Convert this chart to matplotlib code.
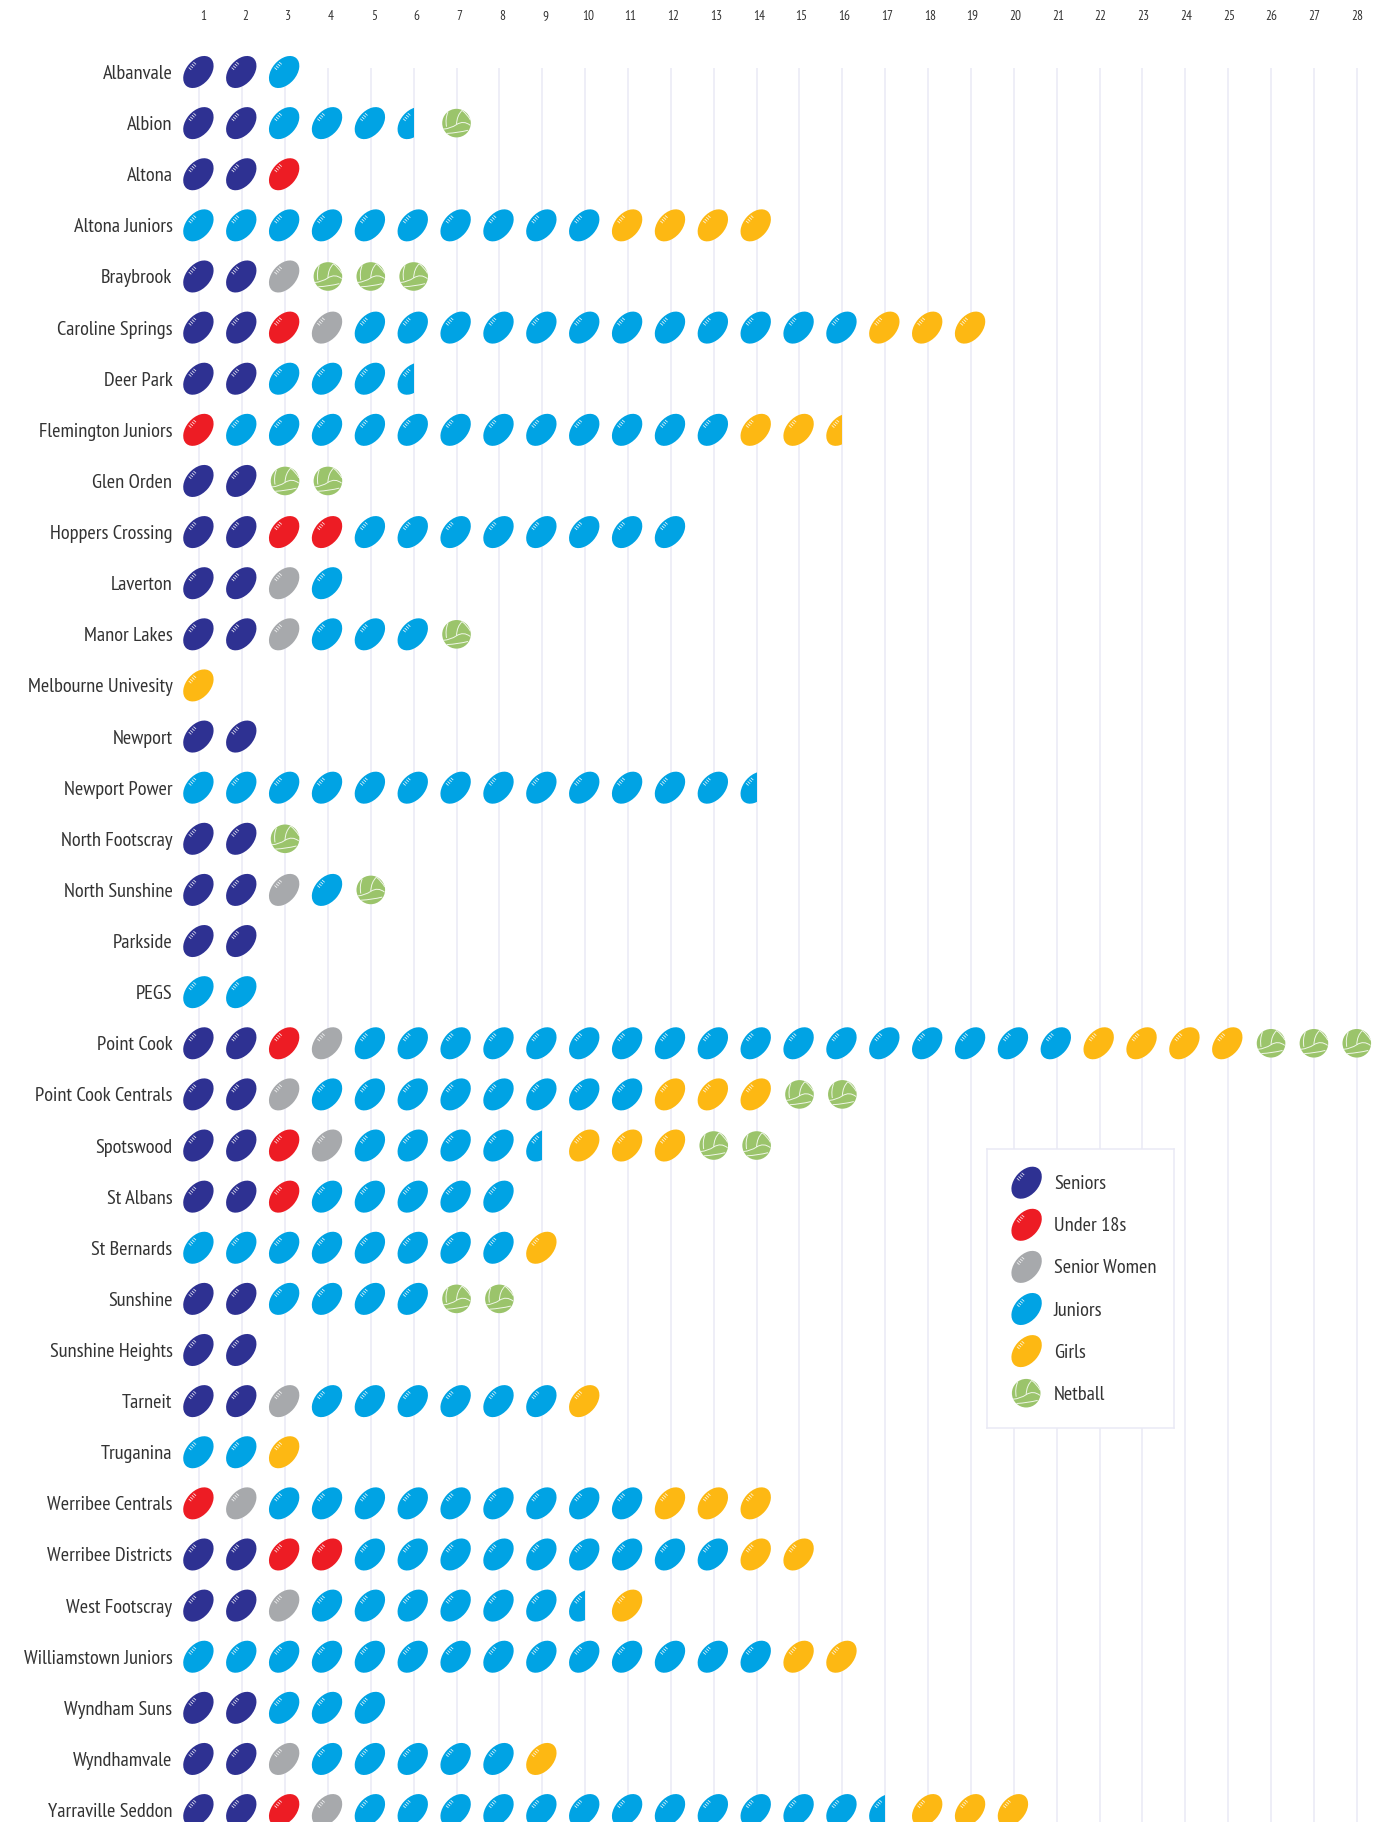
import matplotlib
matplotlib.use('Agg')
import matplotlib.pyplot as plt
from matplotlib import font_manager as fm
from matplotlib.patches import PathPatch, Rectangle
from matplotlib.path import Path
from matplotlib.transforms import Affine2D

# ---------- data ----------
clubs = ["Albanvale", "Albion", "Altona", "Altona Juniors", "Braybrook", "Caroline Springs",
         "Deer Park", "Flemington Juniors", "Glen Orden", "Hoppers Crossing", "Laverton",
         "Manor Lakes", "Melbourne Univesity", "Newport", "Newport Power", "North Footscray",
         "North Sunshine", "Parkside", "PEGS", "Point Cook", "Point Cook Centrals", "Spotswood",
         "St Albans", "St Bernards", "Sunshine", "Sunshine Heights", "Tarneit", "Truganina",
         "Werribee Centrals", "Werribee Districts", "West Footscray", "Williamstown Juniors",
         "Wyndham Suns", "Wyndhamvale", "Yarraville Seddon"]
# One letter per team slot: S U W J G N; lower case = half a team
teams = ["SSJ", "SSJJJjN", "SSU", "JJJJJJJJJJGGGG", "SSWNNN", "SSUWJJJJJJJJJJJJGGG",
         "SSJJJj", "UJJJJJJJJJJJJGGg", "SSNN", "SSUUJJJJJJJJ", "SSWJ",
         "SSWJJJN", "G", "SS", "JJJJJJJJJJJJJj", "SSN",
         "SSWJN", "SS", "JJ", "SSUWJJJJJJJJJJJJJJJJJGGGGNNN", "SSWJJJJJJJJGGGNN", "SSUWJJJJjGGGNN",
         "SSUJJJJJ", "JJJJJJJJG", "SSJJJJNN", "SS", "SSWJJJJJJG", "JJG",
         "UWJJJJJJJJJGGG", "SSUUJJJJJJJJJGG", "SSWJJJJJJjG", "JJJJJJJJJJJJJJGG",
         "SSJJJ", "SSWJJJJJG", "SSUWJJJJJJJJJJJJjGGG"]
slots = list(range(1, 29))
legend_codes = ["S", "U", "W", "J", "G", "N"]
legend_names = ["Seniors", "Under 18s", "Senior Women", "Juniors", "Girls", "Netball"]
colors = {"S": "#2e3192", "U": "#ed1c24", "W": "#a7a9ac", "J": "#00a3e4", "G": "#fdb813", "N": "#9bc46b"}

# ---------- style / layout ----------
W, H = 1395, 1822
names = {f.name for f in fm.fontManager.ttflist}
font = next((n for n in ["PT Sans Narrow", "Liberation Sans Narrow", "Open Sans Condensed", "Roboto Condensed", "Open Sans"] if n in names))
plt.rcParams['font.family'] = [font, 'DejaVu Sans']
TXT = "#333333"
GRID = "#e9e9f5"
COL_PX, ROW_PX = 42.87, 51.12      # pixels per slot / per row
X0, Y0 = 199.3, 72.0               # pixel position of slot 1 / first row
AX_L, AX_T = 180.0, 40.0           # axes left, top (pixels)
SEAM = [((0.4, 0.9), (0.02, 0.55), (0.0, -0.1)), ((-0.6, 0.78), (-0.8, 0.3), (-0.7, -0.25)),
        ((-0.92, -0.42), (-0.4, -0.38), (0.0, -0.1)), ((-0.68, -0.72), (0.1, -0.68), (0.8, -0.5)),
        ((0.0, -0.1), (0.5, 0.22), (0.96, -0.15)), ((0.4, 0.88), (0.75, 0.62), (0.97, 0.22))]


def add_icon(ax, x, y, code, sx, sy, half=False, z=3):
    """Draw one team icon at data (x, y); sx, sy = data units per pixel (sy<0 for inverted axes)."""
    to_data = Affine2D().scale(sx, sy).translate(x, y)
    if code == "N":
        p = Path.unit_circle().transformed(Affine2D().scale(14.3) + to_data)
        ax.add_patch(PathPatch(p, fc=colors[code], ec="none", zorder=z))
        for a, b, c in SEAM:
            q = Path([a, b, c], [Path.MOVETO, Path.CURVE3, Path.CURVE3]).transformed(Affine2D().scale(14.3) + to_data)
            ax.add_patch(PathPatch(q, fc="none", ec="white", lw=0.7, alpha=.85, zorder=z + 1))
        return
    local = Affine2D().rotate_deg(49)
    shift = Affine2D().translate(-0.9, 0)
    body = Path.unit_circle().transformed(Affine2D().scale(18.4, 12.2) + local + shift + to_data)
    patch = PathPatch(body, fc=colors[code], ec="none", zorder=z)
    ax.add_patch(patch)
    arts = [patch]
    for u in (-3.0, -0.6, 1.8, 4.2):
        seg = Path([(u, 6.8), (u, 10.2)]).transformed(local + shift + to_data)
        d = PathPatch(seg, fc="none", ec="white", lw=0.6, alpha=.85, zorder=z + 1)
        ax.add_patch(d)
        arts.append(d)
    if half:
        clip = Rectangle((x - 1, y - 1), 1, 2, transform=ax.transData)
        for a in arts:
            a.set_clip_path(clip)


fig = plt.figure(figsize=(W / 100, H / 100), dpi=100, facecolor="white")
ax = fig.add_axes([AX_L / W, 0, 1 - AX_L / W, 1 - AX_T / H])
ax.set_xlim(1 + (AX_L - X0) / COL_PX, 1 + (W - X0) / COL_PX)
ax.set_ylim((H - Y0) / ROW_PX, (AX_T - Y0) / ROW_PX)
for s in ax.spines.values():
    s.set_visible(False)

ax.vlines(slots, (68 - Y0) / ROW_PX, (H - Y0) / ROW_PX, color=GRID, lw=1.1, zorder=1)
ax.set_yticks(range(len(clubs)), clubs)
ax.tick_params(axis='y', length=0, pad=5.4, labelsize=14.7, labelcolor=TXT)
ax.set_xticks([])

# slot numbers on their own slightly tighter scale, as in the reference
top = ax.twiny()
top.set_xlim(1 + (AX_L - 203.0) / 42.75, 1 + (W - 203.0) / 42.75)
top.set_xticks(slots, [str(n) for n in slots])
top.tick_params(axis='x', length=0, pad=12.5, labelsize=9.5, labelcolor=TXT)
for s in top.spines.values():
    s.set_visible(False)

for r, row in enumerate(teams):
    for i, ch in enumerate(row):
        add_icon(ax, slots[i], r, ch.upper(), 1 / COL_PX, -1 / ROW_PX, half=ch.islower())

# legend panel
LX0, LX1, LY0, LY1 = 987, 1174, 1149, 1428
leg = fig.add_axes([LX0 / W, 1 - LY1 / H, (LX1 - LX0) / W, (LY1 - LY0) / H], zorder=5)
leg.set_xlim(LX0, LX1)
leg.set_ylim(LY1, LY0)
leg.set_xticks([])
leg.set_yticks([])
for s in leg.spines.values():
    s.set_color(GRID)
    s.set_linewidth(1.1)
for k, (code, name) in enumerate(zip(legend_codes, legend_names)):
    y = 1182.7 + k * 42.1
    add_icon(leg, 1027.5 if code != "N" else 1026.2, y, code, 1, -1)
    leg.text(1054, y + 1.5, name, fontsize=14.7, color=TXT, va="center", ha="left")

fig.savefig("out.png", dpi=100)
